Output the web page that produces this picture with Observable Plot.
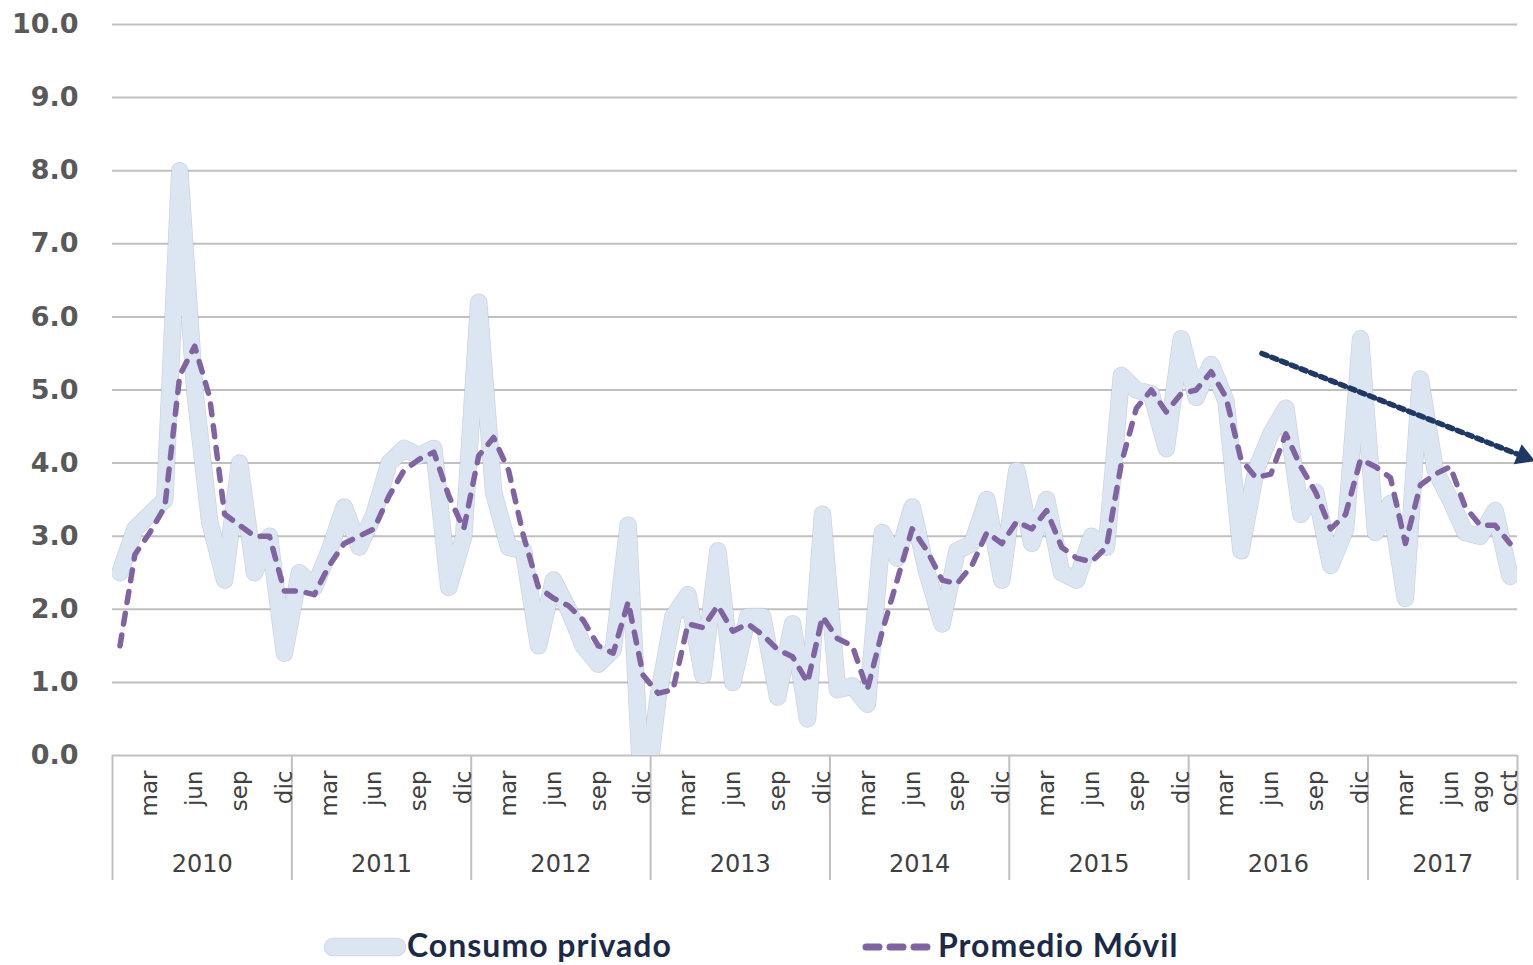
<!DOCTYPE html>
<html><head><meta charset="utf-8">
<script src="https://cdn.jsdelivr.net/npm/d3@7"></script>
<script src="https://cdn.jsdelivr.net/npm/@observablehq/plot@0.6"></script>
<style>
body{margin:0;background:#fff;}
#wrap{position:relative;width:1533px;height:965px;overflow:hidden;background:#fff;}
#legend{position:absolute;left:0;top:920px;}
</style></head><body>
<div id="wrap"><div id="chart"></div><svg id="legend" width="1533" height="45"></svg></div>
<script>
const years = [2010, 2011, 2012, 2013, 2014, 2015, 2016, 2017];
const monthNames = ["ene","feb","mar","abr","may","jun","jul","ago","sep","oct","nov","dic"];
const monthsPerYear = [12, 12, 12, 12, 12, 12, 12, 10];
const labeledMonths = [[2,5,8,11],[2,5,8,11],[2,5,8,11],[2,5,8,11],[2,5,8,11],[2,5,8,11],[2,5,8,11],[2,5,7,9]];
const consumo = [
  2.5, 3.1, 3.3, 3.5, 8.0, 5.0, 3.2, 2.4, 4.0, 2.5, 3.0, 1.4,
  2.5, 2.3, 2.8, 3.4, 2.85, 3.3, 4.0, 4.2, 4.1, 4.2, 2.3, 3.0,
  6.2, 3.6, 2.85, 2.8, 1.5, 2.4, 2.0, 1.5, 1.25, 1.45, 3.15, -0.9,
  0.8, 1.9, 2.2, 1.1, 2.8, 1.0, 1.9, 1.9, 0.8, 1.8, 0.5, 3.3,
  0.9, 0.95, 0.7, 3.05, 2.7, 3.4, 2.5, 1.8, 2.8, 2.9, 3.5, 2.4,
  3.9, 2.9, 3.5, 2.5, 2.4, 3.0, 2.85, 5.2, 5.0, 4.95, 4.2, 5.7,
  4.9, 5.35, 4.85, 2.8, 3.9, 4.4, 4.75, 3.3, 3.6, 2.6, 3.1, 5.7,
  3.05, 3.45, 2.15, 5.15, 3.9, 3.5, 3.05, 3.0, 3.35, 2.45
];
const movil = [
  1.5, 2.75, 3.05, 3.4, 5.2, 5.6, 4.9, 3.3, 3.15, 3.0, 3.0, 2.25,
  2.25, 2.2, 2.6, 2.9, 3.0, 3.1, 3.55, 3.9, 4.05, 4.15, 3.55, 3.1,
  4.1, 4.35, 3.9, 3.0, 2.3, 2.15, 2.05, 1.85, 1.5, 1.4, 2.1, 1.1,
  0.85, 0.9, 1.8, 1.75, 2.05, 1.7, 1.8, 1.65, 1.45, 1.35, 1.0, 1.9,
  1.6, 1.5, 0.9, 1.7, 2.4, 3.1, 2.8, 2.4, 2.35, 2.6, 3.05, 2.9,
  3.2, 3.1, 3.35, 2.85, 2.7, 2.65, 2.85, 4.0, 4.75, 5.0, 4.7, 4.95,
  5.0, 5.25, 4.9, 4.05, 3.8, 3.85, 4.4, 3.95, 3.6, 3.1, 3.3, 4.05,
  3.95, 3.8, 2.9, 3.7, 3.85, 3.95, 3.4, 3.15, 3.15, 2.9
];
const yTicks = [0,1,2,3,4,5,6,7,8,9,10];
// trend arrow annotation (month index, value)
const trendX = [76.4, 93.9];
const trendY = [5.5, 4.09];

// build table
const rows = [];
const monthTickIdx = [], yearCenters = [], dividers = [-0.5];
let idx = 0;
years.forEach((yr, k) => {
  const start = idx;
  for (let m = 0; m < monthsPerYear[k]; m++) {
    rows.push({i: idx, year: yr, month: monthNames[m], consumo: consumo[idx], movil: movil[idx]});
    if (labeledMonths[k].includes(m)) monthTickIdx.push(idx);
    idx++;
  }
  yearCenters.push((start + idx - 1) / 2);
  dividers.push(idx - 0.5);
});
const monthLabel = new Map(rows.map(r => [r.i, r.month]));
const yearLabel = new Map(yearCenters.map((c, k) => [c, String(years[k])]));
const trend = trendX.map((x, k) => ({x, y: trendY[k]}));

const chart = Plot.plot({
  width: 1533,
  height: 920,
  marginLeft: 112,
  marginRight: 16,
  marginTop: 24,
  marginBottom: 165,
  style: {background: "white", overflow: "visible"},
  x: {type: "linear", domain: [-0.5, rows.length - 0.5]},
  y: {domain: [0, 10]},
  marks: [
    Plot.gridY({ticks: yTicks, stroke: "#c0c0c0", strokeOpacity: 1, strokeWidth: 2}),
    Plot.axisY({ticks: yTicks, tickFormat: d3.format(".1f"), tickSize: 0, tickPadding: 34,
      fontSize: 27, fontWeight: "bold", fontFamily: "DejaVu Sans", fill: "#595959"}),
    Plot.axisX({ticks: dividers, tickSize: 125, tickFormat: () => "", stroke: "#c0c0c0", strokeWidth: 2}),
    Plot.axisX({ticks: monthTickIdx, tickFormat: d => monthLabel.get(d), tickSize: 0, tickPadding: 15,
      tickRotate: -90, textAnchor: "end", lineAnchor: "middle",
      fontSize: 23, fontFamily: "DejaVu Sans", fill: "#404040"}),
    Plot.axisX({ticks: yearCenters, tickFormat: d => yearLabel.get(d), tickSize: 0, tickPadding: 99,
      fontSize: 24, fontFamily: "DejaVu Sans", fill: "#404040"}),
    Plot.line(rows, {x: "i", y: "consumo", stroke: "#aeb8c6", strokeWidth: 17.5, strokeOpacity: 0.6,
      strokeLinejoin: "round", strokeLinecap: "round", clip: "frame"}),
    Plot.line(rows, {x: "i", y: "consumo", stroke: "#dce6f2", strokeWidth: 16,
      strokeLinejoin: "round", strokeLinecap: "round", clip: "frame"}),
    Plot.line(rows, {x: "i", y: "movil", stroke: "#8064a2", strokeWidth: 5.5, strokeDasharray: "11,11",
      strokeLinejoin: "round", strokeLinecap: "round"}),
    Plot.line(trend, {x: "x", y: "y", stroke: "#1f3864", strokeWidth: 5.5, strokeDasharray: "5.5,5"}),
    Plot.dot(trend.slice(1), {x: "x", y: "y", symbol: "triangle", r: 8, fill: "#1f3864", stroke: "none", rotate: 111.5})
  ]
});
document.getElementById("chart").appendChild(chart);

// legend
const lg = d3.select("#legend");
lg.append("line").attr("x1", 333).attr("x2", 397).attr("y1", 27).attr("y2", 27)
  .attr("stroke", "#aeb8c6").attr("stroke-opacity", 0.6).attr("stroke-width", 18.5).attr("stroke-linecap", "round");
lg.append("line").attr("x1", 333).attr("x2", 397).attr("y1", 27).attr("y2", 27)
  .attr("stroke", "#dce6f2").attr("stroke-width", 17).attr("stroke-linecap", "round");
lg.append("text").attr("x", 407).attr("y", 37).text("Consumo privado")
  .attr("font-family", "Lato, sans-serif").attr("font-weight", "bold").attr("font-size", 32)
  .attr("letter-spacing", 1).attr("fill", "#1c2a48");
lg.append("line").attr("x1", 866).attr("x2", 929).attr("y1", 27).attr("y2", 27)
  .attr("stroke", "#8064a2").attr("stroke-width", 7).attr("stroke-dasharray", "13,11").attr("stroke-linecap", "round");
lg.append("text").attr("x", 938).attr("y", 37).text("Promedio Móvil")
  .attr("font-family", "Lato, sans-serif").attr("font-weight", "bold").attr("font-size", 32)
  .attr("letter-spacing", 1).attr("fill", "#1c2a48");
</script>
</body></html>
